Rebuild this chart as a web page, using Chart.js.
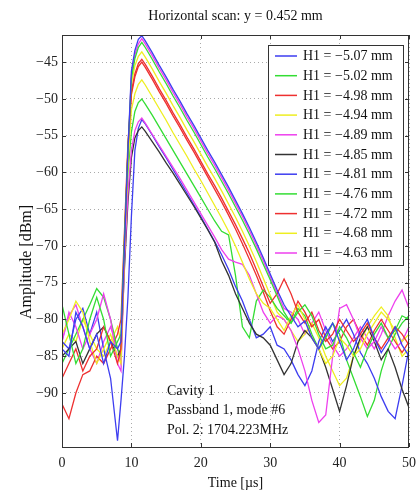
<!DOCTYPE html>
<html><head><meta charset="utf-8">
<script src="https://cdn.jsdelivr.net/npm/chart.js@4/dist/chart.umd.min.js"></script>
<style>html,body{margin:0;padding:0;background:#fff;}#wrap{width:416px;height:491px;}</style>
</head><body><div id="wrap"><canvas id="c" width="416" height="491"></canvas></div>
<script>
// ---------- DATA ----------
const times = [0,1,2,3,4,5,6,7,8,8.5,
  9,9.5,10,10.5,11,11.5,
  12,13,14,15,16,17,18,19,20,21,
  22,23,24,25,26,27,28,29,30,31,
  32,33,34,35,36,37,38,39,40,41,
  42,43,44,45,46,47,48,49,50];

const seriesLabels = ["H1 = \u22125.07 mm","H1 = \u22125.02 mm","H1 = \u22124.98 mm","H1 = \u22124.94 mm",
  "H1 = \u22124.89 mm","H1 = \u22124.85 mm","H1 = \u22124.81 mm","H1 = \u22124.76 mm",
  "H1 = \u22124.72 mm","H1 = \u22124.68 mm","H1 = \u22124.63 mm"];

const h507 = [-84,-85,-79,-81,-84,-82,-86,-83,-84,-83,
  -70,-57,-46.2,-43.4,-41.9,-41.4,
  -42.1,-43.7,-45.4,-47.0,-48.7,-50.3,-52.0,-53.6,-55.3,-57.0,
  -58.6,-60.3,-62.0,-63.8,-65.6,-67.5,-69.5,-71.6,-73.8,-76.0,
  -78.0,-79.5,-81.0,-80.2,-82.5,-84.0,-82.0,-80.5,-83.0,-85.5,
  -84.0,-81.5,-80.0,-82.5,-84.5,-83.0,-81.0,-83.5,-85.0];
const h502 = [-78,-82,-86,-84,-80,-77,-80,-85,-83,-82,
  -69,-57,-47.2,-44.5,-43.0,-42.3,
  -43.0,-44.6,-46.3,-47.9,-49.6,-51.2,-52.9,-54.5,-56.2,-57.9,
  -59.5,-61.2,-62.9,-64.7,-66.5,-68.4,-70.4,-72.5,-74.6,-76.8,
  -79.0,-80.5,-79.0,-78.0,-79.5,-82.0,-84.0,-83.5,-81.0,-82.5,
  -84.5,-86.5,-84.0,-82.0,-80.5,-82.5,-81.5,-79.5,-80.0];
const h498 = [-88,-86,-84,-87,-85,-84,-81,-83,-86,-84,
  -70,-57,-49,-46.6,-45.2,-44.6,
  -45.3,-46.9,-48.6,-50.2,-51.9,-53.5,-55.2,-56.8,-58.5,-60.2,
  -61.8,-63.5,-65.3,-67.1,-69.0,-71.0,-73.2,-75.5,-77.8,-76.5,
  -74.5,-76.5,-79.0,-80.5,-79.0,-81.5,-83.0,-82.0,-80.0,-81.5,
  -83.0,-82.0,-80.5,-82.5,-84.0,-82.5,-81.0,-82.0,-83.5];
const h494 = [-82,-80,-77.5,-79,-83,-86,-84,-82,-85,-86,
  -71,-59,-51.5,-49.3,-48.0,-47.4,
  -48.1,-49.7,-51.3,-52.9,-54.6,-56.2,-57.8,-59.5,-61.1,-62.8,
  -64.5,-66.2,-68.0,-70.0,-72.2,-74.5,-76.5,-77.8,-78.5,-80.0,
  -81.5,-79.5,-78.0,-80.0,-82.5,-84.0,-86.0,-85.0,-82.5,-83.5,
  -85.0,-84.0,-82.0,-80.5,-79.0,-80.0,-81.5,-83.0,-82.0];
const h489 = [-83,-79,-81,-84,-82,-80,-76.5,-80,-86,-87,
  -72,-63,-57,-54.3,-53.1,-52.6,
  -53.3,-54.8,-56.3,-57.8,-59.3,-60.8,-62.4,-64.0,-65.6,-67.2,
  -68.8,-70.5,-71.8,-72.2,-72.5,-74.0,-76.5,-79.0,-80.5,-79.5,
  -80.0,-81.5,-84.0,-87.0,-91.0,-94.0,-93.0,-85.0,-78.5,-78.0,
  -80.0,-82.5,-84.0,-83.0,-81.0,-82.5,-84.0,-83.0,-81.0];
const h485 = [-85,-84,-83,-86,-84,-82,-81,-83,-85,-84,
  -73,-64,-58,-55.3,-54.3,-53.8,
  -54.4,-55.8,-57.2,-58.7,-60.1,-61.6,-63.1,-64.6,-66.2,-67.8,
  -69.5,-72.0,-74.0,-76.5,-78.5,-80.5,-82.0,-82.5,-83.5,-85.5,
  -87.5,-86.0,-83.0,-81.5,-82.5,-84.0,-86.5,-89.5,-92.5,-89.0,
  -85.0,-82.5,-81.0,-83.0,-85.5,-84.0,-86.5,-89.5,-92.0];
const h481 = [-83,-84,-80,-78.5,-82,-79,-84,-88,-96.5,-91,
  -85,-77,-66,-57,-54,-52.8,
  -53.4,-54.9,-56.5,-58.0,-59.6,-61.2,-62.8,-64.4,-66.0,-67.7,
  -69.4,-71.2,-73.2,-75.5,-77.5,-80.0,-82.5,-82.0,-81.0,-83.5,
  -84.0,-85.5,-87.5,-89.0,-87.0,-83.0,-81.0,-83.0,-81.5,-80.0,
  -82.0,-84.5,-86.0,-88.0,-90.5,-92.5,-93.5,-89.0,-84.0];
const h476 = [-86,-84,-82,-80,-78,-75.8,-77,-80,-84,-85,
  -71,-60,-54.5,-51.7,-50.5,-50.0,
  -50.7,-52.2,-53.8,-55.4,-57.0,-58.6,-60.2,-61.8,-63.4,-65.0,
  -66.6,-68.0,-68.5,-74.0,-81.0,-82.5,-77.5,-76.0,-77.0,-78.5,
  -79.5,-80.5,-78.5,-79.5,-82.0,-84.0,-82.5,-80.5,-82.0,-85.5,
  -88.0,-90.5,-93.2,-91.0,-87.0,-84.0,-82.0,-80.5,-79.5];
const h472 = [-91.5,-93.5,-90,-87.5,-87,-85,-86,-84,-82,-80,
  -68,-56,-49.4,-47.0,-45.6,-45.0,
  -45.7,-47.3,-49.0,-50.6,-52.3,-53.9,-55.6,-57.2,-58.9,-60.6,
  -62.3,-64.0,-65.8,-67.7,-69.7,-71.8,-74.0,-76.3,-78.8,-81.0,
  -82.0,-80.0,-77.5,-79.0,-81.0,-80.0,-82.5,-84.0,-83.0,-81.0,
  -80.0,-82.0,-83.5,-81.5,-80.0,-81.5,-83.0,-84.5,-83.0];
const h468 = [-84,-82,-83,-80,-82,-84,-85,-83,-81,-83,
  -69,-57,-48,-45.5,-44.2,-43.6,
  -44.3,-45.9,-47.6,-49.2,-50.9,-52.5,-54.2,-55.8,-57.5,-59.2,
  -60.8,-62.5,-64.3,-66.1,-68.0,-70.0,-72.1,-74.4,-76.7,-79.0,
  -80.0,-81.5,-83.0,-82.0,-80.5,-82.5,-85.0,-87.0,-89.0,-88.0,
  -85.0,-83.0,-81.0,-79.5,-78.3,-79.5,-82.5,-85.0,-84.0];
const h463 = [-83,-79.5,-78,-81,-84,-86,-83,-81,-84,-86,
  -70,-57.5,-46.8,-44.0,-42.5,-41.8,
  -42.5,-44.1,-45.8,-47.4,-49.1,-50.7,-52.4,-54.0,-55.7,-57.4,
  -59.0,-60.7,-62.4,-64.2,-66.0,-67.9,-69.9,-72.0,-74.2,-76.4,
  -78.5,-79.0,-80.0,-82.0,-80.5,-79.0,-81.5,-83.5,-85.0,-84.0,
  -82.5,-81.0,-82.5,-84.0,-82.0,-79.5,-77.5,-76.0,-78.5];

const seriesValues = [h507,h502,h498,h494,h489,h485,h481,h476,h472,h468,h463];
const seriesColors = ['#3d3df0','#33dd33','#ee3030','#eeee20','#ee40ee','#333333',
                      '#3d3df0','#33dd33','#ee3030','#eeee20','#ee40ee'];
const xTicks = [0,10,20,30,40,50];
const yTicks = [-90,-85,-80,-75,-70,-65,-60,-55,-50,-45];

const titleText = "Horizontal scan: y = 0.452 mm";
const xTitle = "Time [\u00b5s]";
const yTitle = "Amplitude [dBm]";
const noteLines = ["Cavity 1","Passband 1, mode #6","Pol. 2: 1704.223MHz"];

// ---------- CHART ----------
const FONT = "'Liberation Serif', 'Times New Roman', serif";
Chart.defaults.font.family = FONT;
Chart.defaults.color = '#222';

const datasets = seriesValues.map((vals,i)=>({
  label: seriesLabels[i],
  data: times.map((t,k)=>({x:t,y:vals[k]})),
  borderColor: seriesColors[i],
  backgroundColor: seriesColors[i],
  borderWidth: 1.3,
  pointRadius: 0,
  tension: 0,
  fill: false
}));

const decor = {
  id:'decor',
  beforeDraw(c){
    const ctx=c.ctx; ctx.save(); ctx.fillStyle='#fff'; ctx.fillRect(0,0,c.width,c.height); ctx.restore();
  },
  afterDraw(c){
    const ctx=c.ctx, a=c.chartArea, xs=c.scales.x, ys=c.scales.y;
    ctx.save();
    ctx.strokeStyle='#333'; ctx.lineWidth=1;
    ctx.beginPath();
    xTicks.forEach(v=>{const p=Math.round(xs.getPixelForValue(v))+0.5;
      ctx.moveTo(p,a.bottom); ctx.lineTo(p,a.bottom-4); ctx.moveTo(p,a.top); ctx.lineTo(p,a.top+4);});
    yTicks.forEach(v=>{const p=Math.round(ys.getPixelForValue(v))+0.5;
      ctx.moveTo(a.left,p); ctx.lineTo(a.left+4,p); ctx.moveTo(a.right,p); ctx.lineTo(a.right-4,p);});
    ctx.stroke();
    ctx.strokeRect(Math.round(a.left)+0.5, Math.round(a.top)+0.5, Math.round(a.right-a.left)-1, Math.round(a.bottom-a.top));

    // legend
    const lx=268, ly=45, lw=135, lh=220;
    ctx.fillStyle='#fff'; ctx.fillRect(lx,ly,lw,lh);
    ctx.strokeStyle='#333'; ctx.lineWidth=1; ctx.strokeRect(lx+0.5,ly+0.5,lw,lh);
    ctx.font = "14px "+FONT; ctx.textAlign='left'; ctx.textBaseline='middle';
    seriesLabels.forEach((lab,i)=>{
      const yy = 56 + i*19.7;
      ctx.strokeStyle=seriesColors[i]; ctx.lineWidth=1.5;
      ctx.beginPath(); ctx.moveTo(275,yy); ctx.lineTo(297,yy); ctx.stroke();
      ctx.fillStyle='#111'; ctx.fillText(lab,303,yy+0.5);
    });

    // annotation
    ctx.font = "14px "+FONT; ctx.fillStyle='#111';
    noteLines.forEach((t,i)=>ctx.fillText(t,167,391+i*19.8));

    // titles
    ctx.textAlign='center';
    ctx.font = "14px "+FONT;
    ctx.fillText(titleText,(a.left+a.right)/2,16);
    ctx.fillText(xTitle,(a.left+a.right)/2,483);
    ctx.save(); ctx.translate(27,262); ctx.rotate(-Math.PI/2);
    ctx.font = "16px "+FONT; ctx.fillText(yTitle,0,0); ctx.restore();
    ctx.restore();
  }
};

new Chart(document.getElementById('c'),{
  type:'line',
  data:{datasets},
  options:{
    responsive:false, animation:false, devicePixelRatio:1,
    layout:{padding:{left:0,right:0,top:35,bottom:0}},
    plugins:{legend:{display:false},title:{display:false},tooltip:{enabled:false}},
    scales:{
      x:{type:'linear',min:0,max:50,
        afterFit(s){s.height=44; s.paddingRight=7; s.paddingLeft=0;},
        afterBuildTicks(s){s.ticks=xTicks.map(v=>({value:v}));},
        grid:{color:'#aaa',lineWidth:1,drawTicks:false},
        border:{display:false,dash:[1,3]},
        ticks:{padding:8,color:'#222',font:{size:14},maxRotation:0}},
      y:{type:'linear',min:-97.35,max:-41.3,
        afterFit(s){s.width=62;},
        afterBuildTicks(s){s.ticks=yTicks.map(v=>({value:v}));},
        grid:{color:'#aaa',lineWidth:1,drawTicks:false},
        border:{display:false,dash:[1,3]},
        ticks:{padding:4,color:'#222',font:{size:14},callback:v=>(v<0?'\u2212':'')+Math.abs(v)}}
    }
  },
  plugins:[decor]
});
</script>
</body></html>
